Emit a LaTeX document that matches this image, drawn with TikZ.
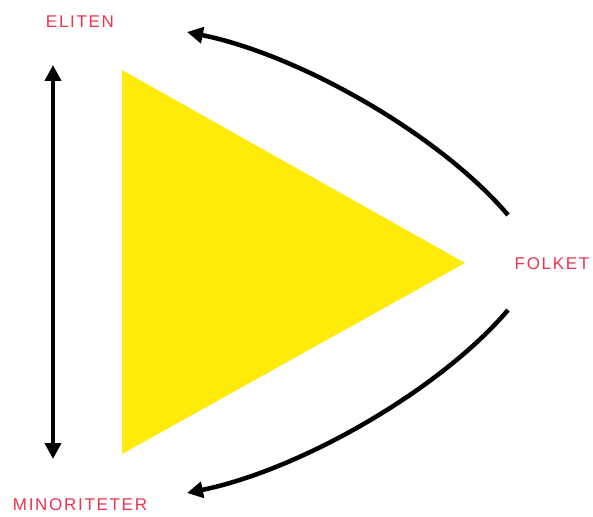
\documentclass[tikz,border=0pt]{standalone}
\usepackage{fontspec}
\setmainfont{Liberation Sans}
\newfontfamily\labelfont[LetterSpace=10]{Liberation Sans}
\usetikzlibrary{arrows.meta}
\definecolor{tyellow}{RGB}{255,235,10}
\definecolor{tred}{RGB}{236,52,80}
\tikzset{
  lbl/.style={font=\labelfont\fontsize{17}{20}\selectfont, text=tred, inner sep=0pt, anchor=base},
  arr/.style={line width=4.5pt, draw=black, -{Triangle[length=16pt,width=16pt]}},
  darr/.style={line width=4.5pt, draw=black, {Triangle[length=16pt,width=16pt]}-{Triangle[length=16pt,width=16pt]}},
}
\begin{document}
\begin{tikzpicture}[x=1pt,y=-1pt]
\useasboundingbox (0,0) rectangle (593,516);
\fill[tyellow] (122,70) -- (122,454) -- (465,263) -- cycle;
\node[lbl] (eliten) at (80,28) {ELITEN};
\node[lbl] (minor) at (80,510) {MINORITETER};
\node[lbl] (folket) at (552,269) {FOLKET};
\coordinate (vtop) at (53,65);
\coordinate (vbot) at (53,459);
\coordinate (us) at (508,215);
\coordinate (ue) at (187,32);
\coordinate (ls) at (508,310);
\coordinate (le) at (187,493);
\draw[darr] (vbot) -- (vtop);
\draw[arr] (us) .. controls (440,135) and (300,55) .. (ue);
\draw[arr] (ls) .. controls (440,390) and (300,470) .. (le);
\end{tikzpicture}
\end{document}
